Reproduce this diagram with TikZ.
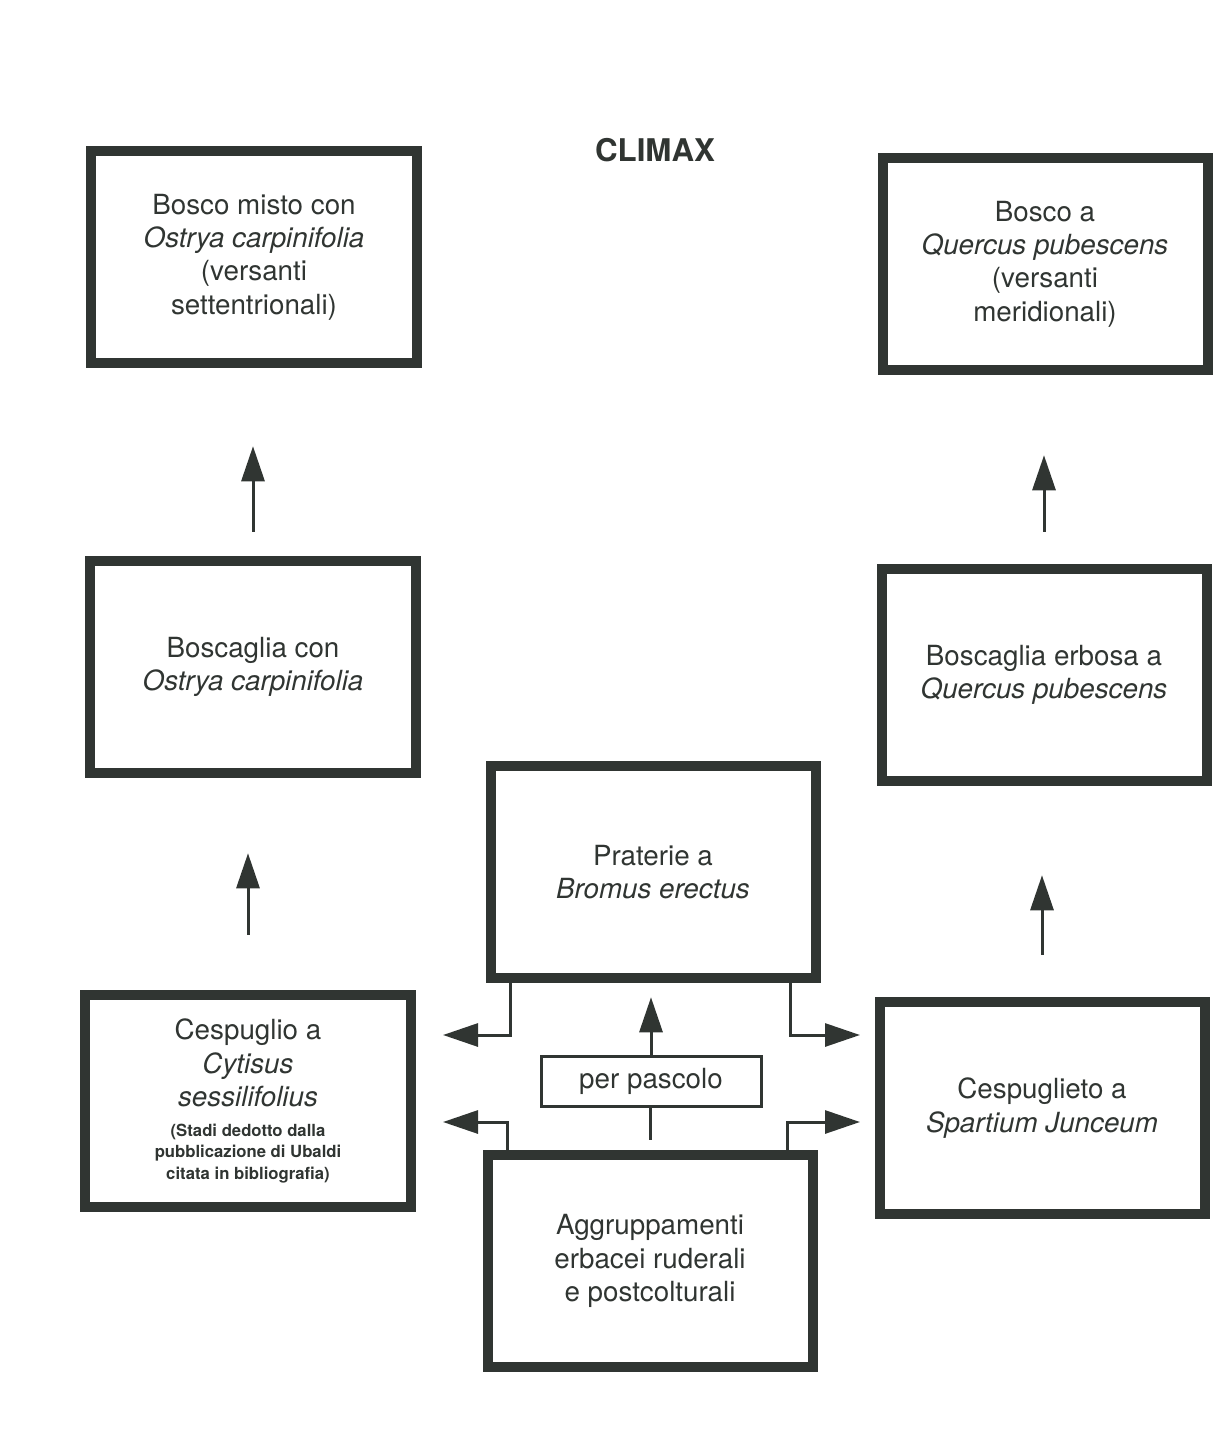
\documentclass[tikz,border=0pt]{standalone}
\usepackage{fontspec}
\setmainfont{TeX Gyre Heros}
\usepackage{tikz}
\usetikzlibrary{positioning,arrows.meta}
\definecolor{colorink}{RGB}{48,53,50}
\newcommand{\notefont}{\fontsize{9.5}{12.5}\selectfont\bfseries}

\begin{document}
\begin{tikzpicture}[
    x=0.2mm, y=-0.2mm,
    font={\fontsize{15.8}{19}\selectfont},
    box/.style={draw=colorink,line width=2mm,text=colorink,align=center,
        minimum width=65mm,minimum height=42.5mm,inner sep=0pt},
    smallbox/.style={draw=colorink,line width=0.6mm,text=colorink,align=center,
        minimum width=44mm,minimum height=10mm,inner sep=0pt},
    title/.style={text=colorink,font={\fontsize{17.8}{21}\selectfont\bfseries}},
    arrow/.style={draw=colorink,line width=0.6mm,
        -{Triangle[length=7mm,width=4.6mm]}},
    stem/.style={draw=colorink,line width=0.6mm},
]
    \useasboundingbox (0,0) rectangle (1217,1445);

    \node[title] (climax) at (655,150) {CLIMAX};

    % climax woods
    \node[box] (boscomisto) at (254,257) {Bosco misto con\\
    \textit{Ostrya carpinifolia}\\
    (versanti\\
    settentrionali)};
    \node[box] (boscoquercus) at (1045,264) {Bosco a\\
    \textit{Quercus pubescens}\\
    (versanti\\
    meridionali)};

    % shrub woods
    \node[box] (boscagliaostrya) at (253,667) {Boscaglia con\\
    \textit{Ostrya carpinifolia}};
    \node[box] (boscagliaerbosa) at (1044,675) {Boscaglia erbosa a\\
    \textit{Quercus pubescens}};

    % grassland and shrubs
    \node[box] (praterie) at (653,872) {Praterie a\\
    \textit{Bromus erectus}};
    \node[box] (cespuglio) at (248,1101) {Cespuglio a\\
    \textit{Cytisus}\\
    \textit{sessilifolius}\\[-2pt]
    \notefont (Stadi dedotto dalla\\[-6.8pt]
    \notefont pubblicazione di Ubaldi\\[-6.8pt]
    \notefont citata in bibliografia)};
    \node[box] (cespuglieto) at (1042,1108) {Cespuglieto a\\
    \textit{Spartium Junceum}};

    \node[smallbox] (pascolo) at (651,1081) {per pascolo};
    \node[box] (aggruppamenti) at (650,1261) {Aggruppamenti\\
    erbacei ruderali\\
    e postcolturali};

    % succession arrows
    \draw[arrow,shorten <=4.8mm,shorten >=15.6mm]
        (boscagliaostrya.north) -- (boscagliaostrya.north |- boscomisto.south);
    \draw[arrow,shorten <=11mm,shorten >=15mm]
        (cespuglio.north) -- (cespuglio.north |- boscagliaostrya.south);
    \draw[arrow,shorten <=6.4mm,shorten >=16mm]
        (boscagliaerbosa.north) -- (boscagliaerbosa.north |- boscoquercus.south);
    \draw[arrow,shorten <=8.4mm,shorten >=17.8mm]
        (cespuglieto.north) -- (cespuglieto.north |- boscagliaerbosa.south);

    \draw[stem,shorten <=2mm] (aggruppamenti.north) -- (aggruppamenti.north |- pascolo.south);
    \draw[arrow,shorten >=2.8mm] (pascolo.north) -- (pascolo.north |- praterie.south);

    \draw[arrow] ([xshift=5mm]praterie.south west) |- ([xshift=5.5mm,yshift=13.2mm]cespuglio.east);
    \draw[arrow] ([xshift=-6mm]praterie.south east) |- ([xshift=-2.9mm,yshift=14.6mm]cespuglieto.west);
    \draw[arrow] ([xshift=5mm]aggruppamenti.north west) |- ([xshift=5.5mm,yshift=-4.2mm]cespuglio.east);
    \draw[arrow] ([xshift=-6mm]aggruppamenti.north east) |- ([xshift=-2.9mm,yshift=-2.8mm]cespuglieto.west);

\end{tikzpicture}
\end{document}
